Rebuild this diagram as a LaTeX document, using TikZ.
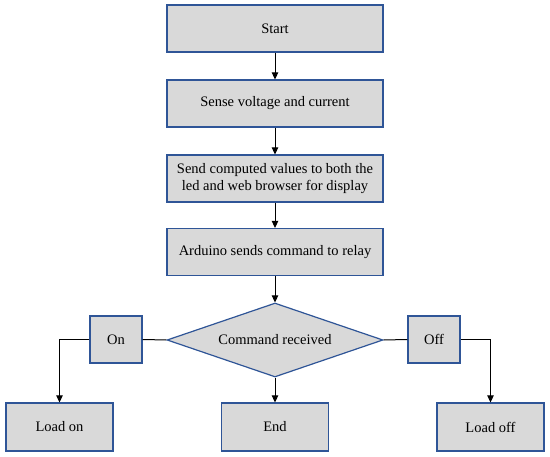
\documentclass[tikz,border=0pt]{standalone}
\usepackage{fontspec}
\setmainfont{Liberation Serif}
\usetikzlibrary{positioning,shapes.geometric,arrows.meta}
\tikzstyle{flowchart} = [x = 1pt, y = -1pt]
\definecolor{boxBorder}{RGB}{47,85,151}
\definecolor{boxFill}{RGB}{217,217,217}
\tikzstyle{stepBox} = [draw=boxBorder, fill=boxFill, line width=1.2pt, minimum width=216pt, minimum height=47pt, inner sep=2pt, align=center, font=\fontsize{14.5}{16.5}\selectfont]
\tikzstyle{smallBox} = [stepBox, minimum width=52pt]
\tikzstyle{endBox} = [stepBox, minimum width=107pt, minimum height=48pt]
\tikzstyle{decisionStyle} = [diamond, draw=boxBorder, fill=boxFill, line width=1.2pt, aspect=2.9, inner sep=0pt, minimum width=216pt, minimum height=74pt, font=\fontsize{14.5}{16.5}\selectfont]
\tikzstyle{flowLine} = [color=black, line width=1pt]
\tikzstyle{flowArrow} = [flowLine, -{Triangle[length=7pt, width=6.5pt]}]
\newcommand{\flowStep}[2]{\draw [flowArrow] (#1) -- (#2);}

\begin{document}
\begin{tikzpicture}[flowchart]
          \useasboundingbox (0,0) rectangle (550,457);
          \node [stepBox] (start) at (275,28.5) {Start};
          \node [stepBox] (sense) at (275,103.5) {Sense voltage and current};
          \node [stepBox] (send) at (275,178.5) {Send computed values to both the\\led and web browser for display};
          \node [stepBox] (arduino) at (275,252) {Arduino sends command to relay};
          \node [decisionStyle] (received) at (275,340) {Command received};
          \node [smallBox] (on) at (116,339.5) {On};
          \node [smallBox] (off) at (434,339.5) {Off};
          \node [endBox] (loadOn) at (59.5,427) {Load on};
          \node [endBox] (end) at (275,427) {End};
          \node [endBox] (loadOff) at (490.5,427) {Load off};

          \flowStep{start}{sense}
          \flowStep{sense}{send}
          \flowStep{send}{arduino}
          \flowStep{arduino}{received}
          \flowStep{received}{end}
          \draw [flowLine] (received.west) -- (on.east);
          \draw [flowLine] (received.east) -- (off.west);
          \draw [flowArrow] (on.west) -| (loadOn.north);
          \draw [flowArrow] (off.east) -| (loadOff.north);
        \end{tikzpicture}
\end{document}
